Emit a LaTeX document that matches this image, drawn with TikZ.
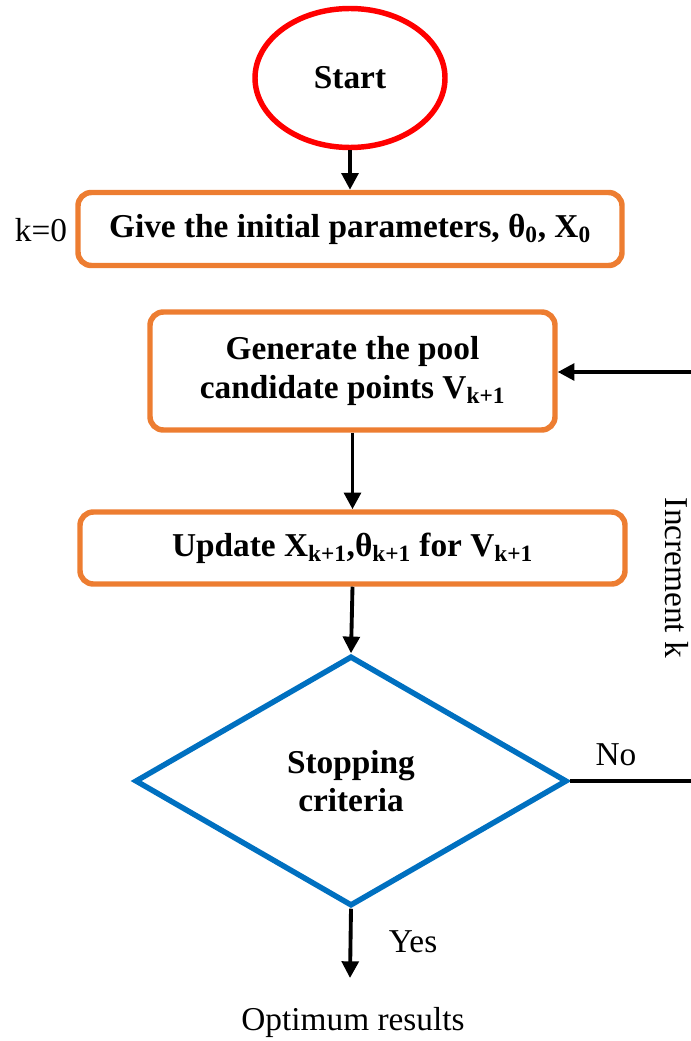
\documentclass[tikz,border=0pt]{standalone}
\usepackage{fontspec}
\setmainfont{Liberation Serif}
\usetikzlibrary{shapes.geometric,arrows.meta}
\definecolor{startred}{RGB}{255,0,0}
\definecolor{boxorange}{RGB}{237,125,49}
\definecolor{decblue}{RGB}{0,112,192}
\tikzset{
  every node/.style={font=\fontsize{25}{29}\selectfont},
  procbox/.style={draw=boxorange, line width=4.1pt, rounded corners=10pt, align=center, font=\fontsize{25}{29}\selectfont\bfseries, inner sep=0pt},
  startnode/.style={draw=startred, ellipse, line width=4.1pt, inner sep=0pt, font=\fontsize{25}{29}\selectfont\bfseries},
  decision/.style={draw=decblue, diamond, line width=4.1pt, inner sep=0pt, align=center, font=\fontsize{25}{29}\selectfont\bfseries},
  flow/.style={line width=2.9pt, -{Triangle[length=12.5pt,width=12.5pt]}},
  plainline/.style={line width=2.9pt},
}
\begin{document}
\begin{tikzpicture}[x=0.75pt,y=-0.75pt]
\useasboundingbox (0,0) rectangle (691,1041);
\node[startnode, minimum width=142.5pt, minimum height=104.25pt] (start) at (350,78) {Start};
\node[procbox, minimum width=408pt, minimum height=54.75pt] (init) at (350,229) {Give the initial parameters, θ\textsubscript{0}, X\textsubscript{0}};
\node (k0) at (41,230) {k=0};
\node[procbox, minimum width=303.75pt, minimum height=88.5pt] (gen) at (352.5,371) {Generate the pool\\candidate points V\textsubscript{k+1}};
\node[procbox, minimum width=408.75pt, minimum height=54pt] (upd) at (352.5,548) {Update X\textsubscript{k+1},θ\textsubscript{k+1} for V\textsubscript{k+1}};
\node[decision, minimum width=324pt, minimum height=187.5pt] (stop) at (351,781) {Stopping\\criteria};
\node (no) at (616,755) {No};
\node (yes) at (413,942) {Yes};
\node (inc) at (677,578) [rotate=-90] {Increment k};
\node (opt) at (353,1022) {Optimum results};
\coordinate (outA) at (691,781);
\coordinate (outB) at (691,372);
\coordinate (yesend) at (350,978);

\draw[flow] (start.south) -- (init.north);
\draw[flow] (gen.south) -- (upd.north -| gen.south);
\draw[flow] (upd.south -| gen.south) -- (stop.north);
\draw[plainline] (stop.east) -- (stop.east -| outA);
\draw[flow] (outB) -- (gen.east |- outB);
\draw[flow] (stop.south) -- (yesend);
\end{tikzpicture}
\end{document}
